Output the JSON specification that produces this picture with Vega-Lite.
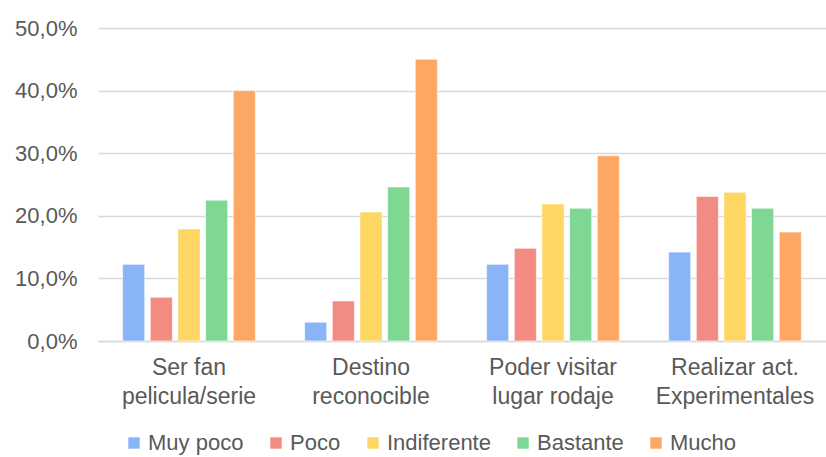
{
  "$schema": "https://vega.github.io/schema/vega-lite/v6.json",
  "width": 728,
  "height": 313,
  "autosize": "none",
  "padding": {"left": 98, "top": 28, "right": 0, "bottom": 116},
  "background": "white",
  "config": {
    "view": {"stroke": null},
    "font": "Liberation Sans"
  },
  "data": {
    "values": [
      {"motivo": "Ser fan\npelicula/serie", "nivel": "Muy poco", "valor": 0.1225},
      {"motivo": "Ser fan\npelicula/serie", "nivel": "Poco", "valor": 0.070},
      {"motivo": "Ser fan\npelicula/serie", "nivel": "Indiferente", "valor": 0.179},
      {"motivo": "Ser fan\npelicula/serie", "nivel": "Bastante", "valor": 0.225},
      {"motivo": "Ser fan\npelicula/serie", "nivel": "Mucho", "valor": 0.400},
      {"motivo": "Destino\nreconocible", "nivel": "Muy poco", "valor": 0.030},
      {"motivo": "Destino\nreconocible", "nivel": "Poco", "valor": 0.064},
      {"motivo": "Destino\nreconocible", "nivel": "Indiferente", "valor": 0.206},
      {"motivo": "Destino\nreconocible", "nivel": "Bastante", "valor": 0.246},
      {"motivo": "Destino\nreconocible", "nivel": "Mucho", "valor": 0.450},
      {"motivo": "Poder visitar\nlugar rodaje", "nivel": "Muy poco", "valor": 0.1225},
      {"motivo": "Poder visitar\nlugar rodaje", "nivel": "Poco", "valor": 0.148},
      {"motivo": "Poder visitar\nlugar rodaje", "nivel": "Indiferente", "valor": 0.219},
      {"motivo": "Poder visitar\nlugar rodaje", "nivel": "Bastante", "valor": 0.212},
      {"motivo": "Poder visitar\nlugar rodaje", "nivel": "Mucho", "valor": 0.296},
      {"motivo": "Realizar act.\nExperimentales", "nivel": "Muy poco", "valor": 0.142},
      {"motivo": "Realizar act.\nExperimentales", "nivel": "Poco", "valor": 0.231},
      {"motivo": "Realizar act.\nExperimentales", "nivel": "Indiferente", "valor": 0.2375},
      {"motivo": "Realizar act.\nExperimentales", "nivel": "Bastante", "valor": 0.212},
      {"motivo": "Realizar act.\nExperimentales", "nivel": "Mucho", "valor": 0.174}
    ]
  },
  "mark": {"type": "bar", "stroke": "white", "strokeWidth": 1, "strokeOpacity": 0.6},
  "encoding": {
    "x": {
      "field": "motivo",
      "type": "nominal",
      "sort": null,
      "scale": {"paddingInner": 0.24, "paddingOuter": 0.12},
      "axis": {
        "title": null,
        "labelAngle": 0,
        "labelExpr": "split(datum.value, '\\n')",
        "labelFontSize": 23,
        "labelColor": "#595959",
        "labelLineHeight": 29,
        "labelPadding": 15,
        "labelBaseline": "top",
        "ticks": false,
        "domainColor": "#d9d9d9",
        "domainWidth": 1.5
      }
    },
    "xOffset": {
      "field": "nivel",
      "type": "nominal",
      "sort": ["Muy poco", "Poco", "Indiferente", "Bastante", "Mucho"],
      "scale": {"paddingInner": 0.2, "paddingOuter": 0.1}
    },
    "y": {
      "field": "valor",
      "type": "quantitative",
      "scale": {"domain": [0, 0.5]},
      "axis": {
        "title": null,
        "values": [0, 0.1, 0.2, 0.3, 0.4, 0.5],
        "labelExpr": "replace(format(datum.value, '.1%'), '.', ',')",
        "labelFontSize": 22,
        "labelColor": "#595959",
        "labelPadding": 21,
        "ticks": false,
        "domain": false,
        "gridColor": "#d9d9d9",
        "gridWidth": 1.5
      }
    },
    "color": {
      "field": "nivel",
      "type": "nominal",
      "sort": ["Muy poco", "Poco", "Indiferente", "Bastante", "Mucho"],
      "scale": {
        "domain": ["Muy poco", "Poco", "Indiferente", "Bastante", "Mucho"],
        "range": ["#8ab4f8", "#f28b82", "#fdd663", "#7ed793", "#fca864"]
      },
      "legend": {
        "title": null,
        "orient": "none",
        "direction": "horizontal",
        "legendX": 25,
        "legendY": 404,
        "symbolType": "square",
        "symbolSize": 130,
        "symbolStrokeWidth": 0,
        "labelFontSize": 22,
        "labelColor": "#595959",
        "labelOffset": 3,
        "columnPadding": 21
      }
    }
  }
}
